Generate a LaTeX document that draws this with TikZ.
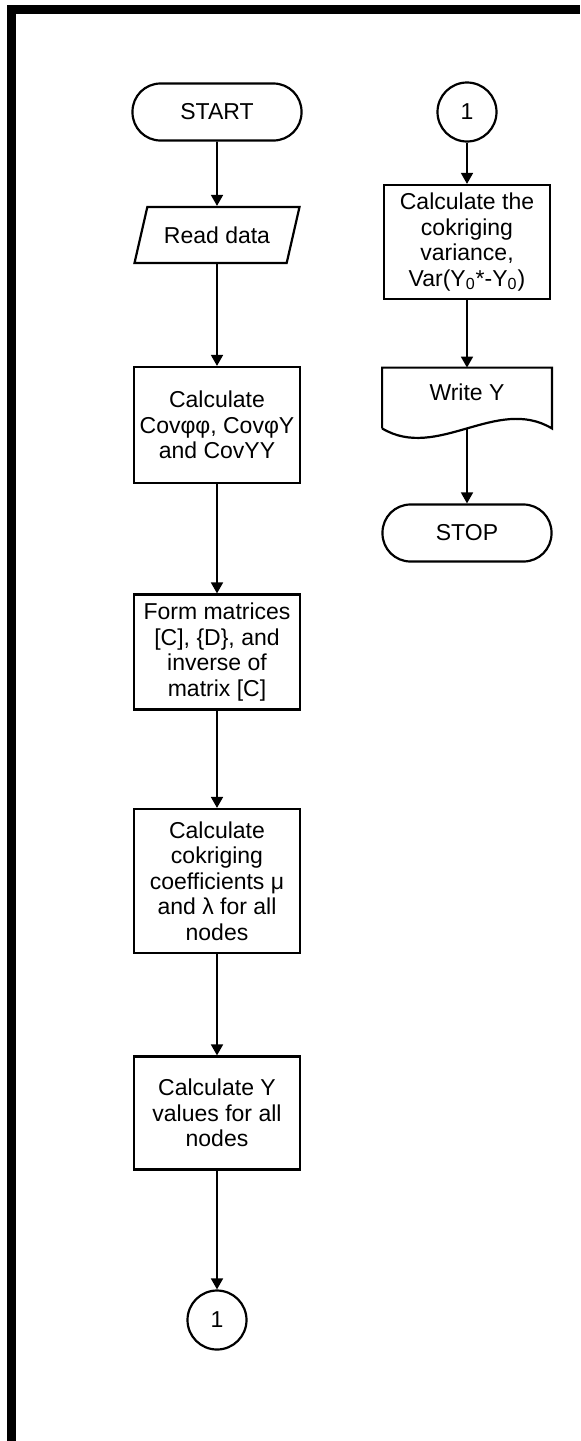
\documentclass[tikz,border=0pt]{standalone}
\usepackage{fontspec}
\setmainfont{Liberation Sans}
\usetikzlibrary{arrows.meta,shapes.geometric,calc}

\tikzset{
  box/.style={draw,line width=1.1pt,minimum width=83pt,align=center,inner sep=2pt},
  term/.style={box,rounded corners=14pt,minimum width=84.5pt,minimum height=28.5pt},
  conn/.style={draw,line width=1.1pt,circle,minimum size=29.5pt,inner sep=0pt},
  io/.style={draw,line width=1.1pt,trapezium,trapezium left angle=67,trapezium right angle=113,
    trapezium stretches body,minimum width=82.5pt,minimum height=28pt},
  flow/.style={line width=0.85pt,-{Triangle[length=5.5pt,width=6pt]}},
}

\begin{document}
\begin{tikzpicture}[x=0.5pt,y=-0.5pt,font=\fontsize{11.5}{12.8}\selectfont]
\useasboundingbox (0,0) rectangle (580,1441);

% page frame
\draw[line width=4.5pt] (11.5,1441) -- (11.5,9) -- (580,9);

% main column
\node[term] (start) at (217,112) {START};
\node[io] (read) at (217,235) {Read data};
\node[box,minimum height=58pt] (cov) at (217,425) {Calculate\\Covφφ, CovφY\\and CovYY};
\node[box,minimum height=57.5pt] (form) at (217,652) {Form matrices\\{}[C], \{D\}, and\\inverse of\\matrix [C]};
\node[box,minimum height=72pt] (coef) at (217,881) {Calculate\\cokriging\\coefficients μ\\and λ for all\\nodes};
\node[box,minimum height=56.5pt] (caly) at (217,1113) {Calculate Y\\values for all\\nodes};
\node[conn] (outc) at (217,1320) {1};

% second column
\node[conn] (inc) at (467,112) {1};
\node[box,minimum height=57pt] (var) at (467,242) {Calculate the\\cokriging\\variance,\\Var(Y\textsubscript{0}*-Y\textsubscript{0})};
\node[minimum width=84.5pt,minimum height=30pt,inner sep=0pt,text depth=6pt] (write) at (467,398) {Write Y};
\draw[line width=1.1pt] (write.south west) -- (write.north west) -- (write.north east) -- (write.south east)
  .. controls ++(-55,-33) and ($(write.south west)+(55,33)$) .. (write.south west);
\node[term] (stop) at (467,533) {STOP};

% arrows
\draw[flow] (start) -- (read);
\draw[flow] (read) -- (cov);
\draw[flow] (cov) -- (form);
\draw[flow] (form) -- (coef);
\draw[flow] (coef) -- (caly);
\draw[flow] (caly) -- (outc);
\draw[flow] (inc) -- (var);
\draw[flow] (var) -- (write);
\draw[flow] (write.south) -- (stop);

\end{tikzpicture}
\end{document}
